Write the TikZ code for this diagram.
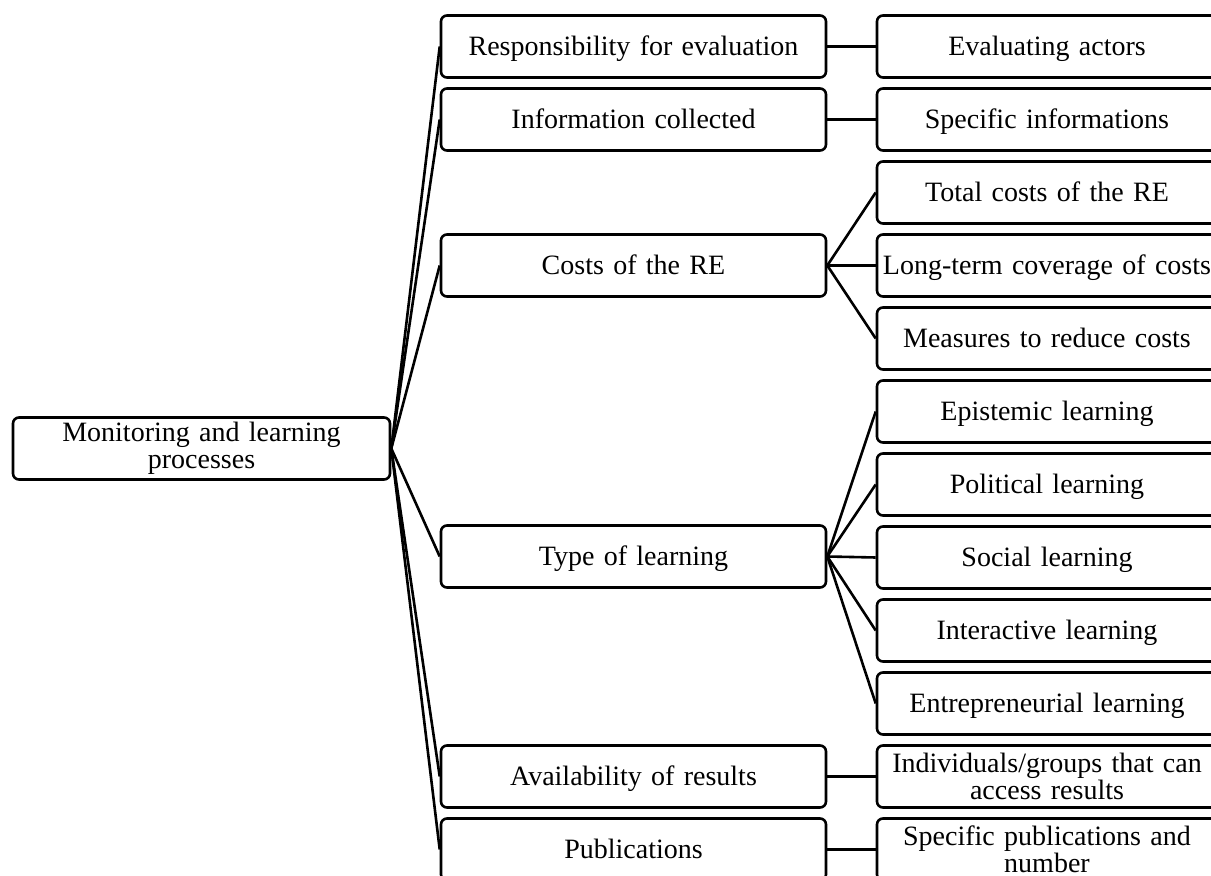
\documentclass[tikz,border=0pt]{standalone}
\usepackage{fontspec}
\setmainfont{Liberation Serif}
\begin{document}
\begin{tikzpicture}[x=0.5pt,y=-0.5pt,
  box/.style={draw=black, line width=1.3pt, rounded corners=3pt, inner sep=0pt,
    minimum height=31pt, align=center, font=\fontsize{14}{13.5}\selectfont},
  oneline/.style={text height=12pt, text depth=3pt},
  rootbox/.style={box, minimum width=188.5pt, text width=180pt},
  midbox/.style={box, oneline, minimum width=192.5pt, text width=185pt},
  leafbox/.style={box, minimum width=170pt, text width=165pt},
  link/.style={draw=black, line width=1.3pt}]
\useasboundingbox (0,0) rectangle (1211,876);
% root
\node[rootbox] (root) at (201.5,448.5) {Monitoring and learning\\processes};
% middle column
\node[midbox] (resp) at (633.5,46.5) {Responsibility for evaluation};
\node[midbox] (info) at (633.5,119.5) {Information collected};
\node[midbox] (cost) at (633.5,265.5) {Costs of the RE};
\node[midbox] (type) at (633.5,556.5) {Type of learning};
\node[midbox] (avail) at (633.5,776.5) {Availability of results};
\node[midbox] (publ) at (633.5,849.5) {Publications};
% leaves
\node[leafbox, oneline] (eva) at (1047,46.5) {Evaluating actors};
\node[leafbox, oneline] (spec) at (1047,119.5) {Specific informations};
\node[leafbox, oneline] (tot) at (1047,192.5) {Total costs of the RE};
\node[leafbox, oneline] (long) at (1047,265.5) {Long-term coverage of costs};
\node[leafbox, oneline] (meas) at (1047,338.5) {Measures to reduce costs};
\node[leafbox, oneline] (epi) at (1047,411.5) {Epistemic learning};
\node[leafbox, oneline] (pol) at (1047,484.5) {Political learning};
\node[leafbox, oneline] (soc) at (1047,557.5) {Social learning};
\node[leafbox, oneline] (inter) at (1047,630.5) {Interactive learning};
\node[leafbox, oneline] (entre) at (1047,703.5) {Entrepreneurial learning};
\node[leafbox] (indiv) at (1047,776.5) {Individuals/groups that can\\access results};
\node[leafbox] (spub) at (1047,849.5) {Specific publications and\\number};
% connectors
\foreach \n in {resp,info,cost,type,avail,publ} \draw[link] (root.east) -- (\n.west);
\draw[link] (resp.east) -- (eva.west);
\draw[link] (info.east) -- (spec.west);
\foreach \n in {tot,long,meas} \draw[link] (cost.east) -- (\n.west);
\foreach \n in {epi,pol,soc,inter,entre} \draw[link] (type.east) -- (\n.west);
\draw[link] (avail.east) -- (indiv.west);
\draw[link] (publ.east) -- (spub.west);
\end{tikzpicture}
\end{document}
